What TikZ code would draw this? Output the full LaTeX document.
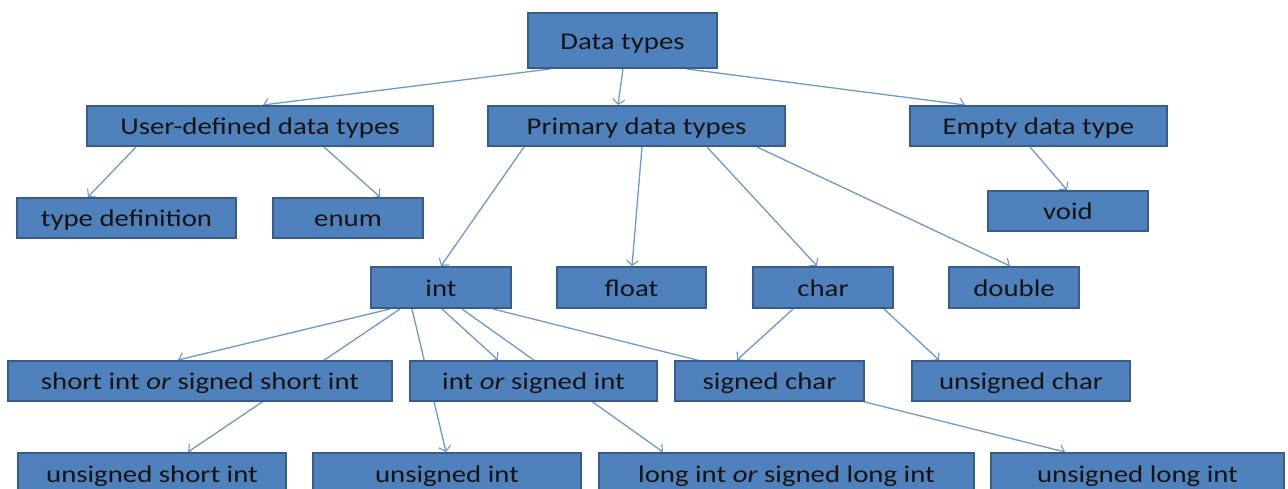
\documentclass[tikz,border=0pt]{standalone}
\usepackage{fontspec}
\setmainfont{Carlito}[FakeStretch=1.2]
\usetikzlibrary{arrows.meta,backgrounds}
\definecolor{boxfill}{HTML}{4F81BD}
\definecolor{boxline}{HTML}{385D8A}
\definecolor{linkcol}{HTML}{6E98D0}
\tikzset{
  tbox/.style={draw=boxline, line width=2pt, fill=boxfill, inner sep=0pt,
    minimum height=40pt, text=black!92, text height=20pt, text depth=3pt,
    font=\fontsize{24}{28}\selectfont},
  link/.style={draw=linkcol, line width=1.3pt,
    -{Straight Barb[length=5pt,width=12pt,line width=1.1pt]}}
}
\begin{document}
\begin{tikzpicture}[x=1pt,y=-1pt]
\useasboundingbox (0,0) rectangle (1288,488);

% level 0
\node[tbox, minimum width=189pt, minimum height=55pt] (dt) at (622.5,40.5) {Data types};
% level 1
\node[tbox, minimum width=346pt] (ud) at (260,126) {User-defined data types};
\node[tbox, minimum width=297pt] (pd) at (636.5,126) {Primary data types};
\node[tbox, minimum width=257pt] (ed) at (1038.5,126) {Empty data type};
% level 2
\node[tbox, minimum width=219pt] (td) at (126.5,218) {type definition};
\node[tbox, minimum width=150pt] (en) at (348,218) {enum};
\node[tbox, minimum width=160pt] (vd) at (1068,211) {void};
% level 3
\node[tbox, minimum width=140pt, minimum height=41pt] (in) at (441,287.5) {int};
\node[tbox, minimum width=149pt, minimum height=41pt] (fl) at (631.5,287.5) {float};
\node[tbox, minimum width=140pt, minimum height=41pt] (ch) at (823,287.5) {char};
\node[tbox, minimum width=130pt, minimum height=41pt] (db) at (1014,287.5) {double};
% level 4
\node[tbox, minimum width=384pt] (si) at (200,381) {short int \textit{or} signed short int};
\node[tbox, minimum width=247pt] (is) at (533.5,381) {int \textit{or} signed int};
\node[tbox, minimum width=189pt] (sc) at (769.5,381) {signed char};
\node[tbox, minimum width=218pt] (uc) at (1021,381) {unsigned char};
% level 5
\node[tbox, minimum width=268pt, minimum height=41pt] (us) at (152,473.5) {unsigned short int};
\node[tbox, minimum width=268pt, minimum height=41pt] (ui) at (447,473.5) {unsigned int};
\node[tbox, minimum width=375pt, minimum height=41pt] (li) at (786.5,473.5) {long int \textit{or} signed long int};
\node[tbox, minimum width=293pt, minimum height=41pt] (ul) at (1137.5,473.5) {unsigned long int};

% connectors run behind the boxes
\begin{scope}[on background layer]
\draw[link] ([xshift=-72.5pt]dt.south) -- ([xshift=3pt]ud.north);
\draw[link] ([xshift=0.5pt]dt.south) -- ([xshift=-18.5pt]pd.north);
\draw[link] ([xshift=64.5pt]dt.south) -- ([xshift=-73.5pt]ed.north);

\draw[link] ([xshift=-124pt]ud.south) -- ([xshift=-38.5pt]td.north);
\draw[link] ([xshift=64pt]ud.south) -- ([xshift=32pt]en.north);

\draw[link] ([xshift=-112.5pt]pd.south) -- ([xshift=0pt]in.north);
\draw[link] ([xshift=5.5pt]pd.south) -- ([xshift=0.5pt]fl.north);
\draw[link] ([xshift=70.5pt]pd.south) -- ([xshift=-6pt]ch.north);
\draw[link] ([xshift=120.5pt]pd.south) -- ([xshift=-4pt]db.north);

\draw[link] ([xshift=-8.5pt]ed.south) -- ([xshift=-1pt]vd.north);

\draw[link] ([xshift=-51pt]in.south) -- ([xshift=-22pt]si.north);
\draw[link] ([xshift=-41pt]in.south) -- ([xshift=36pt]us.north);
\draw[link] ([xshift=-29pt]in.south) -- ([xshift=-1pt]ui.north);
\draw[link] ([xshift=1pt]in.south) -- ([xshift=-35.5pt]is.north);
\draw[link] ([xshift=21pt]in.south) -- ([xshift=-123.5pt]li.north);
\draw[link] ([xshift=52pt]in.south) -- ([xshift=-72.5pt]ul.north);

\draw[link] ([xshift=-30pt]ch.south) -- ([xshift=-32.5pt]sc.north);
\draw[link] ([xshift=61pt]ch.south) -- ([xshift=-82pt]uc.north);
\end{scope}
\end{tikzpicture}
\end{document}
